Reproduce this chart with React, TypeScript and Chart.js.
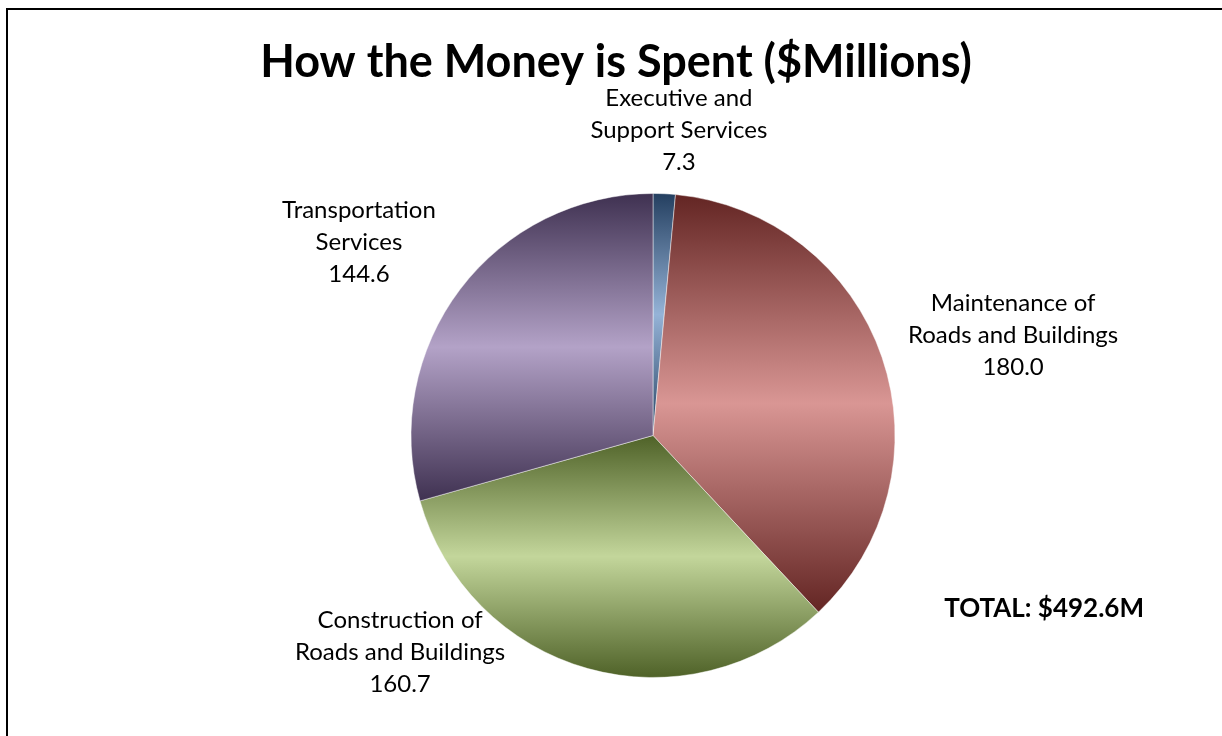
import React, { useEffect, useRef } from "react";
import { Chart, registerables } from "chart.js";

Chart.register(...registerables);

// ---- data ----
const categories: string[][] = [
  ["Executive and", "Support Services"],
  ["Maintenance of", "Roads and Buildings"],
  ["Construction of", "Roads and Buildings"],
  ["Transportation", "Services"],
];
const values: number[] = [7.3, 180.0, 160.7, 144.6];
const titleText = "How the Money is Spent ($Millions)";

// ---- styles ----
const darkColors = ["#243f60", "#632523", "#4f6228", "#3f3151"];
const lightColors = ["#95b3d7", "#d99694", "#c3d69b", "#b3a2c7"];
// label centre offsets from pie centre, in units of the pie radius
const labelOffsets: [number, number][] = [
  [0.107, -1.26],
  [1.488, -0.413],
  [-1.045, 0.897],
  [-1.215, -0.798],
];
const totalOffset: [number, number] = [1.616, 0.715];
const FONT = "Lato, 'Noto Sans', sans-serif";
const BORDER = 1;

const total = values.reduce((a, b) => a + b, 0);

function sliceGradient(ctx: any) {
  const chart = ctx.chart;
  const i: number = ctx.dataIndex ?? 0;
  const area = chart.chartArea;
  if (!area) return lightColors[i];
  const cx = (area.left + area.right) / 2;
  const cy = (area.top + area.bottom) / 2;
  const r = (Math.min(area.width, area.height) - BORDER) / 2;
  let before = 0;
  for (let k = 0; k < i; k++) before += values[k];
  const a0 = -Math.PI / 2 + (2 * Math.PI * before) / total;
  const a1 = a0 + (2 * Math.PI * values[i]) / total;
  const ys = [cy, cy + r * Math.sin(a0), cy + r * Math.sin(a1)];
  for (const ext of [-Math.PI / 2, Math.PI / 2, (3 * Math.PI) / 2]) {
    if (ext >= a0 - 1e-9 && ext <= a1 + 1e-9) ys.push(cy + r * Math.sin(ext));
  }
  const top = Math.min(...ys);
  const bottom = Math.max(...ys);
  const g = chart.ctx.createLinearGradient(0, top, 0, bottom);
  g.addColorStop(0, darkColors[i]);
  g.addColorStop(0.5, lightColors[i]);
  g.addColorStop(1, darkColors[i]);
  return g;
}

const textPlugin = {
  id: "textPlugin",
  afterDraw(chart: any) {
    const ctx = chart.ctx;
    const meta = chart.getDatasetMeta(0);
    const arc = meta.data[0];
    if (!arc) return;
    const cx = arc.x;
    const cy = arc.y;
    const r = arc.outerRadius;
    ctx.save();
    ctx.fillStyle = "#000";
    ctx.textAlign = "center";
    ctx.textBaseline = "middle";
    // title
    ctx.font = `bold 45px ${FONT}`;
    ctx.fillText(titleText, 616, 62);
    // labels
    ctx.font = `24px ${FONT}`;
    const lh = 32;
    categories.forEach((lines, i) => {
      const all = [...lines, values[i].toFixed(1)];
      const x = cx + labelOffsets[i][0] * r;
      const y = cy + labelOffsets[i][1] * r;
      const y0 = y - ((all.length - 1) * lh) / 2;
      all.forEach((t, j) => ctx.fillText(t, x, y0 + j * lh));
    });
    ctx.font = `bold 26px ${FONT}`;
    ctx.fillText(
      `TOTAL: $${total.toFixed(1)}M`,
      cx + totalOffset[0] * r,
      cy + totalOffset[1] * r
    );
    ctx.restore();
  },
};

export default function App() {
  const ref = useRef<HTMLCanvasElement>(null);
  useEffect(() => {
    if (!ref.current) return;
    const chart = new Chart(ref.current, {
      type: "pie",
      data: {
        labels: categories,
        datasets: [
          {
            data: values,
            backgroundColor: sliceGradient as any,
            borderColor: "rgba(255,255,255,0.45)",
            borderWidth: BORDER,
          },
        ],
      },
      options: {
        animation: false,
        responsive: true,
        maintainAspectRatio: false,
        events: [],
        layout: { padding: { left: 410, right: 326, top: 193, bottom: 58 } },
        plugins: {
          legend: { display: false },
          title: { display: false },
          tooltip: { enabled: false },
        },
      },
      plugins: [textPlugin],
    });
    return () => chart.destroy();
  }, []);
  return (
    <div
      style={{
        position: "fixed",
        left: 0,
        top: 0,
        width: 1222,
        height: 736,
        overflow: "hidden",
        background: "#fff",
      }}
    >
      <div
        style={{
          position: "absolute",
          left: 6,
          top: 8,
          width: 1240,
          height: 760,
          borderLeft: "2px solid #000",
          borderTop: "2px solid #000",
        }}
      />
      <div style={{ position: "absolute", left: 0, top: 0, width: 1222, height: 736 }}>
        <canvas ref={ref} />
      </div>
    </div>
  );
}
